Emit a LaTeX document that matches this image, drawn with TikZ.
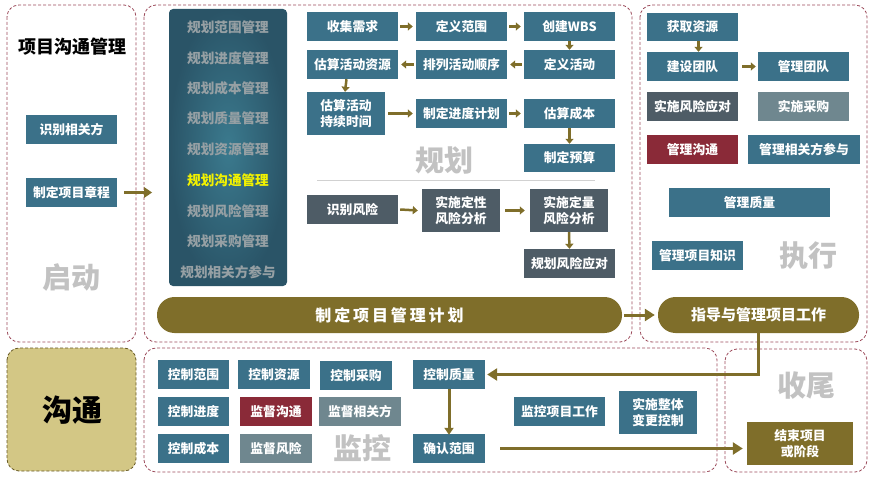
\documentclass[tikz,border=0pt]{standalone}
\usepackage{fontspec}
\setmainfont{Noto Sans CJK SC}
\newfontfamily\spacedfont{Noto Sans CJK SC}[LetterSpace=18]
\usetikzlibrary{arrows.meta}
\definecolor{cteal}{HTML}{3B7189}
\definecolor{cslate}{HTML}{4E5C66}
\definecolor{cred}{HTML}{8A2A38}
\definecolor{cgrey}{HTML}{6F878F}
\definecolor{colive}{HTML}{7F6E2A}
\definecolor{ckhaki}{HTML}{D3C785}
\definecolor{cpanel}{HTML}{9B4A5A}
\definecolor{cstage}{HTML}{C2C2C2}
\definecolor{clistin}{HTML}{3B7A8E}
\definecolor{clistout}{HTML}{2A5467}
\definecolor{clisttxt}{HTML}{96A0A4}
\definecolor{cyel}{HTML}{F2F200}
\newcommand\boxfont{\fontsize{12.8}{15.5}\selectfont\bfseries}
\newcommand\stagefont{\fontsize{29}{32}\selectfont\bfseries}
\newcommand\listfont{\fontsize{13.6}{16}\selectfont\bfseries}
\newcommand\mybox[7]{\node[#2, minimum width={(#5)-(#3)}, minimum height={(#6)-(#4)}] (#1) at ({((#3)+(#5))/2},{((#4)+(#6))/2}) {#7};}
\tikzset{
 box/.style={inner sep=0pt, text=white, font=\boxfont, align=center},
 tealb/.style={box, fill=cteal},
 slateb/.style={box, fill=cslate},
 redb/.style={box, fill=cred},
 greyb/.style={box, fill=cgrey},
 oliveb/.style={box, fill=colive},
 sarr/.style={draw=colive, line width=2.5pt, -{Triangle[width=8pt,length=5pt]}},
 barr/.style={draw=colive, line width=3pt, -{Triangle[width=12pt,length=10pt]}},
 panel/.style={draw=cpanel, dash pattern=on 3pt off 2pt, line width=0.8pt, rounded corners=12pt},
 stage/.style={text=cstage, font=\stagefont, inner sep=0pt},
 listitem/.style={text=clisttxt, font=\listfont, inner sep=0pt},
}
\begin{document}
\begin{tikzpicture}[x=1pt,y=-1pt]
\useasboundingbox (0,0) rectangle (876,484);
% panels
\draw[panel] (7,5) rectangle (136,342);
\draw[panel] (144,5) rectangle (632,342);
\draw[panel] (640,5) rectangle (867,342);
\draw[panel, draw=colive!80!black, fill=ckhaki] (7,348) rectangle (136,471);
\draw[panel] (144,348) rectangle (717,472);
\draw[panel] (725,349) rectangle (867,472);
% initiating
\node[font=\fontsize{18}{20}\selectfont\bfseries, inner sep=0pt] (title) at (72,47) {项目沟通管理};
\mybox{ident}{tealb}{26}{115}{117}{144}{识别相关方}
\mybox{charter}{tealb}{26}{178}{117}{207}{制定项目章程}
\node[stage] (sInit) at (71,278) {启动};
\coordinate (initEnd) at ([xshift=35]charter.east);
\draw[barr, line width=2.5pt, -{Triangle[width=10pt,length=8pt]}] ([xshift=7]charter.east) -- (initEnd);
% planning list
\node[rounded corners=4pt, inner color=clistin, outer color=clistout, minimum width=118, minimum height=277, inner sep=0pt] (list) at (228,147.5) {};
\node[listitem] (l1) at (228,27) {规划范围管理};
\node[listitem] (l2) at (228,58) {规划进度管理};
\node[listitem] (l3) at (228,88) {规划成本管理};
\node[listitem] (l4) at (228,118) {规划质量管理};
\node[listitem] (l5) at (228,149) {规划资源管理};
\node[listitem, text=cyel] (l6) at (228,180) {规划沟通管理};
\node[listitem] (l7) at (228,211) {规划风险管理};
\node[listitem] (l8) at (228,241) {规划采购管理};
\node[listitem] (l9) at (228,272) {规划相关方参与};
% planning flow
\mybox{collect}{tealb}{307}{12}{398}{41}{收集需求}
\mybox{defscope}{tealb}{416}{12}{507}{41}{定义范围}
\mybox{wbs}{tealb}{524}{12}{615}{41}{创建WBS}
\mybox{estres}{tealb}{307}{50}{398}{79}{估算活动资源}
\mybox{seq}{tealb}{416}{50}{507}{79}{排列活动顺序}
\mybox{defact}{tealb}{524}{50}{615}{79}{定义活动}
\mybox{estdur}{tealb}{307}{92}{385}{135}{估算活动\\持续时间}
\mybox{sched}{tealb}{416}{99}{507}{128}{制定进度计划}
\mybox{estcost}{tealb}{524}{99}{615}{128}{估算成本}
\mybox{budget}{tealb}{524}{144}{615}{172}{制定预算}
\node[stage] (sPlan) at (444,160) {规划};
\draw[draw=black!18, line width=0.8pt] (317,180) -- (595,180);
\draw[sarr] ([xshift=2]collect.east) -- ([xshift=-3]defscope.west);
\draw[sarr] ([xshift=2]defscope.east) -- ([xshift=-3]wbs.west);
\draw[sarr] (wbs.south) -- (defact.north);
\draw[sarr] ([xshift=-2]defact.west) -- ([xshift=3]seq.east);
\draw[sarr] ([xshift=-2]seq.west) -- ([xshift=3]estres.east);
\draw[sarr] ([xshift=-6]estres.south) -- ([xshift=-1]estdur.north);
\draw[sarr] ([xshift=3]estdur.east |- sched.east) -- ([xshift=-3]sched.west);
\draw[sarr] ([xshift=2]sched.east) -- ([xshift=-3]estcost.west);
\draw[sarr] (estcost.south) -- (budget.north);
% risk
\mybox{idrisk}{slateb}{307}{195}{398}{224}{识别风险}
\mybox{qual}{slateb}{422}{189}{500}{232}{实施定性\\风险分析}
\mybox{quant}{slateb}{530}{189}{608}{232}{实施定量\\风险分析}
\mybox{resp}{slateb}{524}{249}{615}{278}{规划风险应对}
\draw[sarr] ([xshift=2]idrisk.east) -- ([xshift=-4]qual.west);
\draw[sarr] ([xshift=5]qual.east) -- ([xshift=-5]quant.west);
\draw[sarr] (quant.south) -- (resp.north);
% plan bar
\node[oliveb, rounded corners=17.5pt, minimum width=465, minimum height=36, font=\fontsize{16}{18}\selectfont\bfseries\spacedfont] (plan) at (389.5,315) {制定项目管理计划};
\node[oliveb, rounded corners=17.5pt, minimum width=201, minimum height=36, font=\fontsize{15}{17}\selectfont\bfseries] (guide) at (758.5,315) {指导与管理项目工作};
\draw[barr] ([xshift=2]plan.east) -- ([xshift=-3]guide.west);
% executing
\mybox{acq}{tealb}{647}{13}{738}{41}{获取资源}
\mybox{devteam}{tealb}{647}{52}{738}{81}{建设团队}
\mybox{mgteam}{tealb}{758}{52}{849}{81}{管理团队}
\mybox{imprisk}{slateb}{647}{92}{738}{121}{实施风险应对}
\mybox{proc}{greyb}{758}{92}{849}{121}{实施采购}
\mybox{mgcomm}{redb}{647}{135}{738}{164}{管理沟通}
\mybox{mgstake}{tealb}{748}{135}{860}{164}{管理相关方参与}
\mybox{mgqual}{tealb}{669}{188}{830}{217}{管理质量}
\mybox{mgknow}{tealb}{652}{241}{743}{270}{管理项目知识}
\node[stage] (sExec) at (808,256) {执行};
\draw[sarr] ([xshift=6]acq.south) -- ([xshift=6]devteam.north);
\draw[sarr] ([xshift=4]devteam.east) -- ([xshift=-2]mgteam.west);
% communication label
\node[font=\fontsize{30}{32}\selectfont\bfseries, inner sep=0pt] (comm) at (72,410) {沟通};
% monitoring
\mybox{cscope}{tealb}{158}{360}{229}{389}{控制范围}
\mybox{cres}{tealb}{238}{360}{310}{389}{控制资源}
\mybox{cproc}{tealb}{320}{361}{392}{390}{控制采购}
\mybox{csched}{tealb}{158}{397}{229}{426}{控制进度}
\mybox{mcomm}{redb}{240}{397}{312}{426}{监督沟通}
\mybox{mstake}{greyb}{319}{397}{401}{426}{监督相关方}
\mybox{ccost}{tealb}{158}{434}{229}{463}{控制成本}
\mybox{mrisk}{greyb}{240}{434}{312}{463}{监督风险}
\node[stage] (sMon) at (362,448) {监控};
\mybox{cqual}{tealb}{413}{360}{485}{389}{控制质量}
\mybox{vscope}{tealb}{413}{434}{485}{463}{确认范围}
\mybox{mwork}{tealb}{514}{397}{605}{426}{监控项目工作}
\mybox{icc}{tealb}{619}{391}{697}{434}{实施整体\\变更控制}
% closing
\node[stage] (sClose) at (806,386) {收尾};
\mybox{closep}{oliveb}{747}{422}{853}{465}{结束项目\\或阶段}
% bottom arrows
\draw[barr] (guide.south) |- ([xshift=2]cqual.east);
\draw[sarr, line width=3pt, -{Triangle[width=9pt,length=7pt]}] (cqual.south) -- ([yshift=-1]vscope.north);
\draw[barr] ([xshift=15]vscope.east) -- ([xshift=-4]vscope.east -| closep.west);
\end{tikzpicture}
\end{document}
